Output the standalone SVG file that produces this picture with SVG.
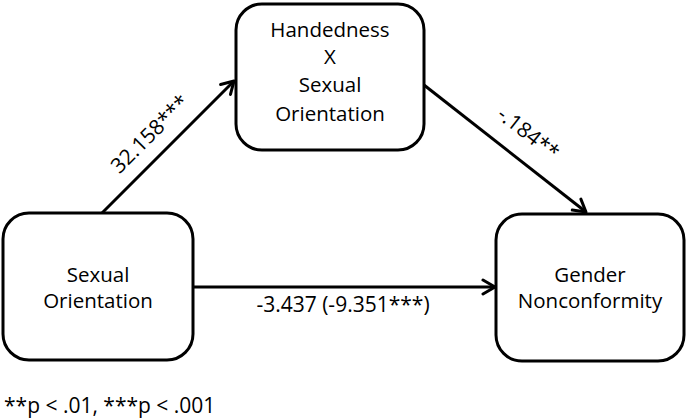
<svg xmlns="http://www.w3.org/2000/svg" width="689" height="419" viewBox="0 0 689 419">
<style>
.box{fill:#fff;stroke:#000;stroke-width:3}
.t{font-family:"Open Sans","Liberation Sans",Arial,sans-serif;font-size:20.5px;fill:#000;text-anchor:middle}
.l{font-family:"Open Sans","Liberation Sans",Arial,sans-serif;font-size:21px;fill:#000;text-anchor:middle}
.c{stroke:#000;stroke-width:3;fill:none}
</style>
<defs>
<marker id="ah" markerUnits="userSpaceOnUse" markerWidth="20" markerHeight="20" refX="14" refY="8" orient="auto" viewBox="0 0 20 16">
<path d="M2,1 L14,8 L2,15" fill="none" stroke="#000" stroke-width="3" stroke-linecap="round" stroke-linejoin="round"/>
</marker>
</defs>
<g id="connectors">
<line class="c" x1="102" y1="213" x2="234" y2="81" marker-end="url(#ah)"/>
<line class="c" x1="424" y1="85" x2="586" y2="212" marker-end="url(#ah)"/>
<line class="c" x1="193" y1="287" x2="495" y2="287" marker-end="url(#ah)"/>
<text class="l" transform="translate(155,139) rotate(-45)">32.158***</text>
<text class="l" transform="translate(524,139) rotate(38)">-.184**</text>
<text class="l" x="343" y="312">-3.437 (-9.351***)</text>
</g>
<g id="node-sexual-orientation">
<rect class="box" x="3" y="213" width="190" height="147" rx="26"/>
<text class="t" x="98" y="282">Sexual</text>
<text class="t" x="98" y="308">Orientation</text>
</g>
<g id="node-handedness">
<rect class="box" x="236" y="4" width="188" height="146" rx="26"/>
<text class="t" x="330" y="37">Handedness</text>
<text class="t" x="330" y="64">X</text>
<text class="t" x="330" y="92">Sexual</text>
<text class="t" x="330" y="121">Orientation</text>
</g>
<g id="node-gender">
<rect class="box" x="496" y="214" width="188" height="147" rx="26"/>
<text class="t" x="590" y="282">Gender</text>
<text class="t" x="590" y="308">Nonconformity</text>
</g>
<text class="l" x="4" y="413" style="text-anchor:start">**p &lt; .01, ***p &lt; .001</text>
</svg>
